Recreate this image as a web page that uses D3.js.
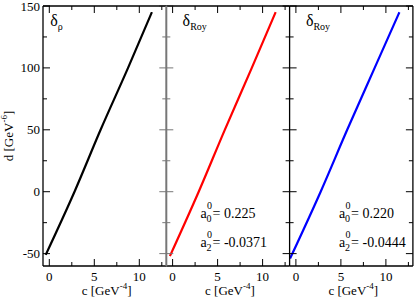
<!DOCTYPE html>
<html>
<head>
<meta charset="utf-8">
<script src="https://cdn.jsdelivr.net/npm/d3@7"></script>
<style>
	body { margin: 0; background: #fff; }
	svg text { font-family: "Liberation Serif", "Times New Roman", Tinos; }
</style>
</head>
<body>
<svg width="415" height="300"></svg>
<script>
// curves, c [GeV^-4] vs d [GeV^-6]
const cRho = [-0.4, 2.8, 5.7, 8.75, 11.4];
const dRho = [-51, 0, 50, 100, 145];
const cRoy1 = [-0.3, 2.9, 5.8, 8.8, 11.45];
const dRoy1 = [-52, 0, 50, 100, 145];
const cRoy2 = [-0.65, 2.75, 5.7, 8.75, 11.5];
const dRoy2 = [-54, 0, 50, 100, 145];

const panelNames = ['ρ', 'Roy', 'Roy'];
const panelColours = ['#000', '#f00', '#00f'];
const a00 = [null, '0.225', '0.220'];
const a20 = [null, '-0.0371', '-0.0444'];

const xTicks = [0, 5, 10];
const xMinor = [2.5, 7.5, 12.5];
const yTicks = [-50, 0, 50, 100, 150];
const yMinor = [-25, 25, 75, 125];

const series = [
	cRho.map((c, i) => ({c: c, d: dRho[i]})),
	cRoy1.map((c, i) => ({c: c, d: dRoy1[i]})),
	cRoy2.map((c, i) => ({c: c, d: dRoy2[i]}))
];

const svg = d3.select('svg');
const plotTop = 6, plotBottom = 266;
const left0 = 43, panelW = 123.3;
const major = 7, minor = 4;

const y = d3.scaleLinear().domain([-60, 150]).range([plotBottom, plotTop]);

series.forEach((pts, p) => {
	const x0 = left0 + p * panelW;
	const x = d3.scaleLinear().domain([-0.7, 13]).range([x0, x0 + panelW]);
	const g = svg.append('g');
	const frameCol = '#000';

	// curve
	g.append('path')
		.datum(pts)
		.attr('fill', 'none')
		.attr('stroke', panelColours[p])
		.attr('stroke-width', 2.2)
		.attr('d', d3.line().curve(d3.curveMonotoneX).x(d => x(d.c)).y(d => y(d.d)));

	// ticks, all pointing inward
	const tk = g.append('g').attr('stroke', '#000').attr('stroke-width', 1);
	xTicks.concat(xMinor).forEach(t => {
		const len = xTicks.includes(t) ? major : minor;
		tk.append('line').attr('x1', x(t)).attr('x2', x(t)).attr('y1', plotBottom).attr('y2', plotBottom - len);
		tk.append('line').attr('x1', x(t)).attr('x2', x(t)).attr('y1', plotTop).attr('y2', plotTop + len);
	});
	yTicks.concat(yMinor).forEach(t => {
		const len = yTicks.includes(t) ? major : minor;
		tk.append('line').attr('x1', x0).attr('x2', x0 + len).attr('y1', y(t)).attr('y2', y(t))
			.attr('stroke', p == 1 ? '#777' : '#000');
		tk.append('line').attr('x1', x0 + panelW).attr('x2', x0 + panelW - len).attr('y1', y(t)).attr('y2', y(t))
			.attr('stroke', p == 0 ? '#777' : '#000');
	});

	// frame
	g.append('line').attr('x1', x0).attr('x2', x0 + panelW).attr('y1', plotTop).attr('y2', plotTop)
		.attr('stroke', frameCol).attr('stroke-width', 1.3);
	g.append('line').attr('x1', x0).attr('x2', x0 + panelW).attr('y1', plotBottom).attr('y2', plotBottom)
		.attr('stroke', frameCol).attr('stroke-width', 1.3);
	g.append('line').attr('x1', x0).attr('x2', x0).attr('y1', plotTop).attr('y2', plotBottom)
		.attr('stroke', p == 1 ? '#777' : '#000').attr('stroke-width', p == 1 ? 2 : 1.3);
	if (p == 2) g.append('line').attr('x1', x0 + panelW).attr('x2', x0 + panelW).attr('y1', plotTop).attr('y2', plotBottom)
		.attr('stroke', '#000').attr('stroke-width', 1.3);

	// x tick labels
	g.selectAll('text.xt').data(xTicks).enter().append('text')
		.attr('x', d => x(d)).attr('y', plotBottom + 15)
		.attr('text-anchor', 'middle').attr('font-size', 13)
		.text(d => d);

	// x axis title
	const xt = g.append('text')
		.attr('x', x0 + panelW / 2 + 2).attr('y', 295)
		.attr('text-anchor', 'middle').attr('font-size', 13);
	xt.append('tspan').text('c [GeV');
	xt.append('tspan').attr('font-size', 9).attr('dy', -6).text('-4');
	xt.append('tspan').attr('dy', 6).text(']');

	// panel name
	const nm = g.append('text').attr('x', x(0) + (p == 0 ? 1 : 10)).attr('y', 26).attr('font-size', 16);
	nm.append('tspan').text('δ');
	nm.append('tspan').attr('font-size', 10).attr('dy', 4).text(panelNames[p]);

	// scattering lengths
	if (a00[p]) {
		const ax = p == 1 ? x(3.1) : x(4.8);
		[[a00[p], 0, 218], [a20[p], 2, 247]].forEach(r => {
			g.append('text').attr('x', ax).attr('y', r[2]).attr('font-size', 14).text('a');
			g.append('text').attr('x', ax + 6.5).attr('y', r[2] - 9).attr('font-size', 10).text('0');
			g.append('text').attr('x', ax + 6).attr('y', r[2] + 4).attr('font-size', 10).text(r[1]);
			g.append('text').attr('x', ax + 12).attr('y', r[2]).attr('font-size', 14).text('= ' + r[0]);
		});
	}
});

// y tick labels
svg.selectAll('text.yt').data(yTicks).enter().append('text')
	.attr('x', 40).attr('y', d => y(d) + 4.5)
	.attr('text-anchor', 'end').attr('font-size', 13)
	.text(d => d);

// y axis title
const yt = svg.append('text')
	.attr('transform', `translate(13,${(plotTop + plotBottom) / 2}) rotate(-90)`)
	.attr('text-anchor', 'middle').attr('font-size', 13);
yt.append('tspan').text('d [GeV');
yt.append('tspan').attr('font-size', 9).attr('dy', -6).text('-6');
yt.append('tspan').attr('dy', 6).text(']');

svg.selectAll('text').attr('font-family', 'Liberation Serif');
</script>
</body>
</html>
